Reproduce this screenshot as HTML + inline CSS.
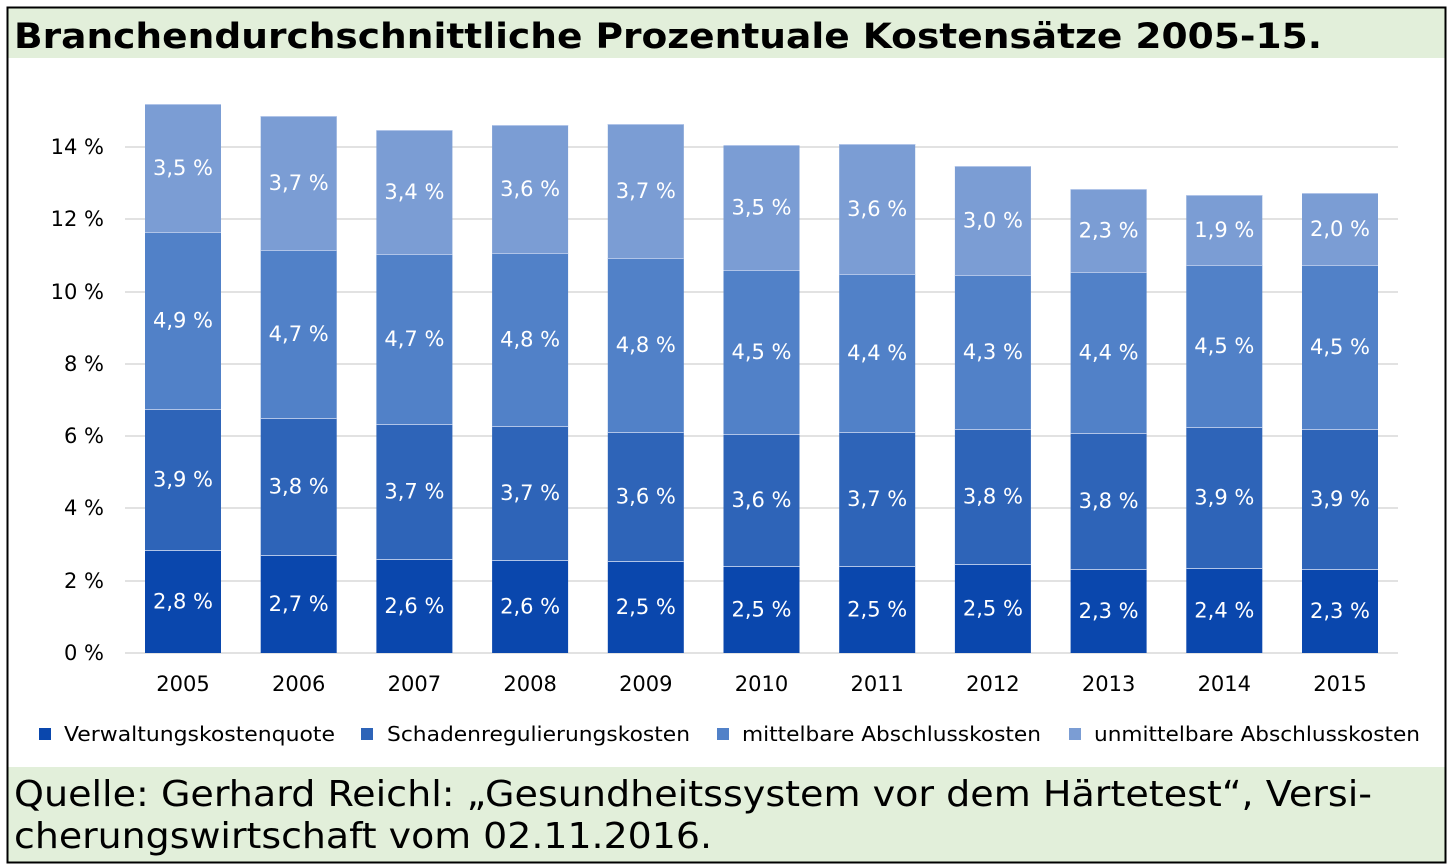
<!DOCTYPE html>
<html><head><meta charset="utf-8"><style>
body{margin:0;background:#fff;}
svg{display:block;font-family:"DejaVu Sans","Liberation Sans",sans-serif;}
</style></head><body>
<svg width="1453" height="868" viewBox="0 0 1453 868">
<rect x="0" y="0" width="1453" height="868" fill="#fff"/>
<rect x="8" y="8" width="1438" height="50" fill="#e2efda"/>
<rect x="8" y="767" width="1438" height="95" fill="#e2efda"/>
<rect x="7.5" y="7.5" width="1438" height="855" fill="none" stroke="#000" stroke-width="2"/>
<text x="14" y="48" font-size="35" font-weight="bold" fill="#000" textLength="1308" lengthAdjust="spacingAndGlyphs">Branchendurchschnittliche Prozentuale Kostensätze 2005-15.</text>
<g stroke="#d9d9d9" stroke-width="1.5">
<line x1="125" x2="1398" y1="147" y2="147"/><line x1="125" x2="1398" y1="219" y2="219"/>
<line x1="125" x2="1398" y1="292" y2="292"/><line x1="125" x2="1398" y1="364" y2="364"/>
<line x1="125" x2="1398" y1="436" y2="436"/><line x1="125" x2="1398" y1="508" y2="508"/>
<line x1="125" x2="1398" y1="581" y2="581"/><line x1="125" x2="1398" y1="653" y2="653"/>
</g>
<g font-size="21" fill="#000" text-anchor="end">
<text x="104" y="154">14 %</text><text x="104" y="226">12 %</text><text x="104" y="299">10 %</text>
<text x="104" y="371">8 %</text><text x="104" y="443">6 %</text><text x="104" y="515">4 %</text>
<text x="104" y="588">2 %</text><text x="104" y="660">0 %</text>
</g>
<g id="bars" font-size="21" fill="#fff" text-anchor="middle"></g>
<g font-size="21" fill="#000" text-anchor="middle" id="years"></g>
<g font-size="20" fill="#000">
<rect x="39" y="728" width="12" height="12" fill="#0a47ad"/><text x="64" y="741" textLength="271" lengthAdjust="spacingAndGlyphs">Verwaltungskostenquote</text>
<rect x="361" y="728" width="12" height="12" fill="#2e64b8"/><text x="387" y="741" textLength="303" lengthAdjust="spacingAndGlyphs">Schadenregulierungskosten</text>
<rect x="717" y="728" width="12" height="12" fill="#5181c8"/><text x="742" y="741" textLength="299" lengthAdjust="spacingAndGlyphs">mittelbare Abschlusskosten</text>
<rect x="1069" y="728" width="12" height="12" fill="#7b9dd4"/><text x="1094" y="741" textLength="326" lengthAdjust="spacingAndGlyphs">unmittelbare Abschlusskosten</text>
</g>
<g font-size="36" fill="#000">
<text x="14" y="806" textLength="1358" lengthAdjust="spacingAndGlyphs">Quelle: Gerhard Reichl: „Gesundheitssystem vor dem Härtetest“, Versi-</text>
<text x="14" y="848" textLength="698" lengthAdjust="spacingAndGlyphs">cherungswirtschaft vom 02.11.2016.</text>
</g>
</svg>
<script>
var d=[[550,409,232,104,"2,8","3,9","4,9","3,5"],[555,418,250,116,"2,7","3,8","4,7","3,7"],[559,424,254,130,"2,6","3,7","4,7","3,4"],[560,426,253,125,"2,6","3,7","4,8","3,6"],[561,432,258,124,"2,5","3,6","4,8","3,7"],[566,434,270,145,"2,5","3,6","4,5","3,5"],[566,432,274,144,"2,5","3,7","4,4","3,6"],[564,429,275,166,"2,5","3,8","4,3","3,0"],[569,433,272,189,"2,3","3,8","4,4","2,3"],[568,427,265,195,"2,4","3,9","4,5","1,9"],[569,429,265,193,"2,3","3,9","4,5","2,0"]];
var cols=["#0a47ad","#2e64b8","#5181c8","#7b9dd4"];
var ns="http://www.w3.org/2000/svg",g=document.getElementById("bars"),yg=document.getElementById("years");
function el(t,a,p){var e=document.createElementNS(ns,t);for(var k in a)e.setAttribute(k,a[k]);p.appendChild(e);return e;}
d.forEach(function(b,i){var cx=183+i*115.7;var bot=653;
for(var s=0;s<4;s++){var top=b[s];el("rect",{x:cx-38,y:top,width:76,height:bot-top,fill:cols[s]},g);
el("line",{x1:cx-38,x2:cx+38,y1:top+0.5,y2:top+0.5,stroke:"#b0c4e8","stroke-width":1},g);
var t=el("text",{x:cx,y:(top+bot)/2+7},g);t.textContent=b[4+s]+" %";bot=top;}
var y=el("text",{x:cx,y:691},yg);y.textContent=2005+i;});
</script>
</body></html>
